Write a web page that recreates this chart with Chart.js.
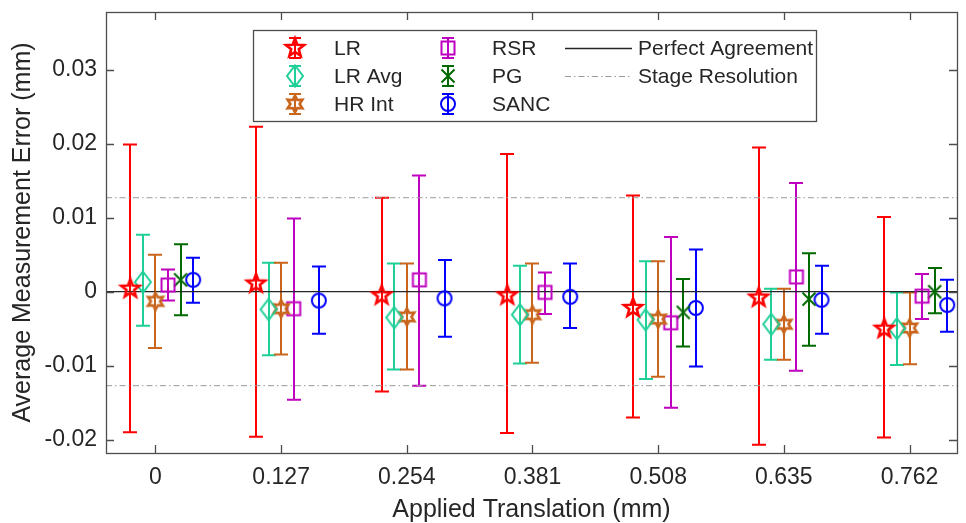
<!DOCTYPE html>
<html>
<head>
<meta charset="utf-8">
<title>Average Measurement Error</title>
<script src="https://cdn.jsdelivr.net/npm/chart.js@4.4.0/dist/chart.umd.min.js"></script>
<style>
html, body { margin: 0; padding: 0; background: #fff; }
#wrap { width: 966px; height: 523px; }
</style>
</head>
<body>
<div id="wrap"><canvas id="myChart" width="966" height="523"></canvas></div>
<script>
/* categories (applied translation, mm) */
var translations = [0, 0.127, 0.254, 0.381, 0.508, 0.635, 0.762];
var xTickLabels = ['0', '0.127', '0.254', '0.381', '0.508', '0.635', '0.762'];
var yTicks = [-0.02, -0.01, 0, 0.01, 0.02, 0.03];
var yTickLabels = ['-0.02', '-0.01', '0', '0.01', '0.02', '0.03'];
var stageResolution = 0.0127;

/* series values: mean, lower and upper end of the error bar */
var lr_mean = [0.0004, 0.0011, -0.0005, -0.0005, -0.0022, -0.0008, -0.0050];
var lr_lo   = [-0.0190, -0.0196, -0.0135, -0.0191, -0.0170, -0.0207, -0.0197];
var lr_hi   = [0.0199, 0.0223, 0.0127, 0.0186, 0.0130, 0.0195, 0.0101];

var lravg_mean = [0.0013, -0.0024, -0.0035, -0.0031, -0.0038, -0.0044, -0.0050];
var lravg_lo   = [-0.0046, -0.0086, -0.0105, -0.0097, -0.0118, -0.0092, -0.0099];
var lravg_hi   = [0.0077, 0.0039, 0.0038, 0.0035, 0.0041, 0.0004, -0.0001];

var hrint_mean = [-0.0013, -0.0023, -0.0034, -0.0031, -0.0037, -0.0044, -0.0049];
var hrint_lo   = [-0.0076, -0.0085, -0.0105, -0.0096, -0.0115, -0.0092, -0.0098];
var hrint_hi   = [0.0050, 0.0039, 0.0038, 0.0038, 0.0041, 0.0004, -0.0001];

var rsr_mean = [0.0009, -0.0023, 0.0016, -0.0001, -0.0042, 0.0020, -0.0006];
var rsr_lo   = [-0.0012, -0.0146, -0.0127, -0.0030, -0.0157, -0.0107, -0.0037];
var rsr_hi   = [0.0030, 0.0099, 0.0157, 0.0026, 0.0074, 0.0147, 0.0024];

var pg_mean = [0.0016, null, null, null, -0.0028, -0.0010, 0.0000];
var pg_lo   = [-0.0032, null, null, null, -0.0074, -0.0073, -0.0029];
var pg_hi   = [0.0064, null, null, null, 0.0017, 0.0052, 0.0032];

var sanc_mean = [0.0016, -0.0012, -0.0009, -0.0007, -0.0022, -0.0011, -0.0018];
var sanc_lo   = [-0.0015, -0.0057, -0.0061, -0.0049, -0.0101, -0.0057, -0.0054];
var sanc_hi   = [0.0046, 0.0034, 0.0043, 0.0038, 0.0057, 0.0035, 0.0016];

/* layout / style */
var xLimits = [-0.05, 0.81];
var yLimits = [-0.0218, 0.0378];
var seriesShift = 0.0127;      // horizontal spacing of the series inside a group
var axisColor = '#4d4d4d';
var textColor = '#262626';
var fontFamily = "'Liberation Sans', Arial, Helvetica, sans-serif";

Chart.defaults.font.family = fontFamily;
Chart.defaults.color = textColor;

/* star outline, alternating outer / inner radius */
function starPath(g, n, ro, ri) {
	for (var i = 0; i < n * 2; i++) {
		var r = (i % 2 == 0) ? ro : ri;
		var a = -Math.PI / 2 + i * Math.PI / n;
		if (i == 0) g.moveTo(r * Math.cos(a), r * Math.sin(a));
		else g.lineTo(r * Math.cos(a), r * Math.sin(a));
	}
	g.closePath();
}

function makeMarker(shape, color) {
	var c = document.createElement('canvas');
	c.width = 26;
	c.height = 26;
	var g = c.getContext('2d');
	g.strokeStyle = color;
	g.lineWidth = 2;
	g.translate(13, 13);
	g.beginPath();
	if (shape == 'pentagram') {
		g.lineWidth = 2.6;
		starPath(g, 5, 9.5, 4);
	} else if (shape == 'hexagram') {
		g.lineWidth = 2.6;
		starPath(g, 6, 8.5, 4.6);
	} else if (shape == 'diamond') {
		g.moveTo(0, -10.5);
		g.lineTo(8, 0);
		g.lineTo(0, 10.5);
		g.lineTo(-8, 0);
		g.closePath();
	} else if (shape == 'square') {
		g.rect(-6.5, -6.5, 13, 13);
	} else if (shape == 'x') {
		g.moveTo(-6.5, -6.5); g.lineTo(6.5, 6.5);
		g.moveTo(6.5, -6.5); g.lineTo(-6.5, 6.5);
	} else {
		g.arc(0, 0, 7, 0, Math.PI * 2);
	}
	g.stroke();
	return c;
}

var series = [
	{ label: 'LR',     mean: lr_mean,    lo: lr_lo,    hi: lr_hi,    color: '#ff0000', shape: 'pentagram' },
	{ label: 'LR Avg', mean: lravg_mean, lo: lravg_lo, hi: lravg_hi, color: '#1fcf98', shape: 'diamond' },
	{ label: 'HR Int', mean: hrint_mean, lo: hrint_lo, hi: hrint_hi, color: '#c9651c', shape: 'hexagram' },
	{ label: 'RSR',    mean: rsr_mean,   lo: rsr_lo,   hi: rsr_hi,   color: '#bf00bf', shape: 'square' },
	{ label: 'PG',     mean: pg_mean,    lo: pg_lo,    hi: pg_hi,    color: '#006a00', shape: 'x' },
	{ label: 'SANC',   mean: sanc_mean,  lo: sanc_lo,  hi: sanc_hi,  color: '#0000ff', shape: 'circle' }
];

var datasets = [];
series.forEach(function(s, idx) {
	var pts = [];
	for (var k = 0; k < translations.length; k++) {
		if (s.mean[k] === null) continue;
		pts.push({ x: translations[k] + (idx - 2) * seriesShift, y: s.mean[k], lo: s.lo[k], hi: s.hi[k] });
	}
	s.marker = makeMarker(s.shape, s.color);
	datasets.push({
		type: 'scatter',
		label: s.label,
		data: pts,
		pointStyle: s.marker,
		pointRadius: 8,
		errColor: s.color
	});
});

/* reference lines */
function hline(label, y, color, width, dash) {
	return {
		type: 'line',
		label: label,
		data: [{ x: xLimits[0], y: y }, { x: xLimits[1], y: y }],
		borderColor: color,
		borderWidth: width,
		borderDash: dash,
		pointRadius: 0,
		fill: false
	};
}
datasets.push(hline('Perfect Agreement', 0, '#262626', 1.3, []));
datasets.push(hline('Stage Resolution', stageResolution, '#9a9a9a', 1, [6, 3, 1.5, 3]));
datasets.push(hline('Stage Resolution', -stageResolution, '#9a9a9a', 1, [6, 3, 1.5, 3]));

var capHalf = 7;

var errorBars = {
	id: 'errorBars',
	beforeDatasetsDraw: function(chart) {
		var ctx = chart.ctx;
		var xs = chart.scales.x, ys = chart.scales.y;
		chart.data.datasets.forEach(function(ds) {
			if (!ds.errColor) return;
			ctx.save();
			ctx.strokeStyle = ds.errColor;
			ctx.lineWidth = 2;
			ds.data.forEach(function(p) {
				var px = Math.round(xs.getPixelForValue(p.x));
				var top = ys.getPixelForValue(p.hi);
				var bot = ys.getPixelForValue(p.lo);
				ctx.beginPath();
				ctx.moveTo(px, top); ctx.lineTo(px, bot);
				ctx.moveTo(px - capHalf, top); ctx.lineTo(px + capHalf, top);
				ctx.moveTo(px - capHalf, bot); ctx.lineTo(px + capHalf, bot);
				ctx.stroke();
			});
			ctx.restore();
		});
	}
};

/* box round the axes with inward ticks on all four sides */
var axesBox = {
	id: 'axesBox',
	afterDatasetsDraw: function(chart) {
		var ctx = chart.ctx, a = chart.chartArea;
		var xs = chart.scales.x, ys = chart.scales.y;
		var tl = 8;
		ctx.save();
		ctx.strokeStyle = axisColor;
		ctx.lineWidth = 1.3;
		ctx.beginPath();
		xs.ticks.forEach(function(t) {
			var px = Math.round(xs.getPixelForValue(t.value)) + 0.5;
			ctx.moveTo(px, a.bottom); ctx.lineTo(px, a.bottom - tl);
			ctx.moveTo(px, a.top); ctx.lineTo(px, a.top + tl);
		});
		ys.ticks.forEach(function(t) {
			var py = Math.round(ys.getPixelForValue(t.value)) + 0.5;
			ctx.moveTo(a.left, py); ctx.lineTo(a.left + tl, py);
			ctx.moveTo(a.right, py); ctx.lineTo(a.right - tl, py);
		});
		ctx.stroke();
		ctx.strokeRect(Math.round(a.left) + 0.5, Math.round(a.top) + 0.5,
			Math.round(a.right - a.left), Math.round(a.bottom - a.top));
		ctx.restore();
	}
};

/* legend box in the upper part of the axes, three columns */
var boxLegend = {
	id: 'boxLegend',
	afterDraw: function(chart) {
		var ctx = chart.ctx, a = chart.chartArea;
		var bx = a.left + 147, by = a.top + 18, bw = 563, bh = 91;
		var rowH = 28, row0 = by + 18;
		ctx.save();
		ctx.fillStyle = '#ffffff';
		ctx.fillRect(bx, by, bw, bh);
		ctx.strokeStyle = axisColor;
		ctx.lineWidth = 1.3;
		ctx.strokeRect(Math.round(bx) + 0.5, Math.round(by) + 0.5, bw, bh);
		ctx.font = '21px ' + fontFamily;
		ctx.textBaseline = 'middle';
		ctx.textAlign = 'left';
		series.forEach(function(s, i) {
			var col = Math.floor(i / 3), row = i % 3;
			var mx = bx + (col == 0 ? 42 : 195);
			var tx = bx + (col == 0 ? 81 : 239);
			var my = row0 + row * rowH;
			ctx.strokeStyle = s.color;
			ctx.lineWidth = 2;
			ctx.beginPath();
			ctx.moveTo(mx, my - 10); ctx.lineTo(mx, my + 10);
			ctx.moveTo(mx - 6, my - 10); ctx.lineTo(mx + 6, my - 10);
			ctx.moveTo(mx - 6, my + 10); ctx.lineTo(mx + 6, my + 10);
			ctx.stroke();
			ctx.drawImage(s.marker, mx - 13, my - 13);
			ctx.fillStyle = textColor;
			ctx.fillText(s.label, tx, my + 1);
		});
		var lx0 = bx + 312, lx1 = bx + 379, ltx = bx + 385;
		ctx.strokeStyle = '#262626';
		ctx.lineWidth = 1.3;
		ctx.beginPath();
		ctx.moveTo(lx0, row0 + 0.5); ctx.lineTo(lx1, row0 + 0.5);
		ctx.stroke();
		ctx.strokeStyle = '#9a9a9a';
		ctx.lineWidth = 1;
		ctx.setLineDash([6, 3, 1.5, 3]);
		ctx.beginPath();
		ctx.moveTo(lx0, row0 + rowH + 0.5); ctx.lineTo(lx1, row0 + rowH + 0.5);
		ctx.stroke();
		ctx.setLineDash([]);
		ctx.fillStyle = textColor;
		ctx.fillText('Perfect Agreement', ltx, row0 + 1);
		ctx.fillText('Stage Resolution', ltx, row0 + rowH + 1);
		ctx.restore();
	}
};

var ctx = document.getElementById('myChart').getContext('2d');
var graph = new Chart(ctx, {
	data: { datasets: datasets },
	options: {
		responsive: false,
		animation: false,
		layout: { padding: { top: 12, right: 2, left: 0, bottom: 0 } },
		plugins: {
			legend: { display: false },
			tooltip: { enabled: false }
		},
		scales: {
			x: {
				type: 'linear',
				min: xLimits[0],
				max: xLimits[1],
				grid: { display: false, drawTicks: false },
				border: { display: false },
				afterBuildTicks: function(axis) {
					axis.ticks = translations.map(function(v) { return { value: v }; });
				},
				afterFit: function(axis) {
					axis.height = 70;
					axis.paddingLeft = 0;
					axis.paddingRight = 0;
				},
				ticks: {
					autoSkip: false,
					maxRotation: 0,
					padding: 11,
					color: textColor,
					font: { size: 23 },
					callback: function(v, i) { return xTickLabels[i]; }
				},
				title: {
					display: true,
					text: 'Applied Translation (mm)',
					color: textColor,
					font: { size: 25, lineHeight: 1 },
					padding: { top: 0, bottom: 0 }
				}
			},
			y: {
				type: 'linear',
				min: yLimits[0],
				max: yLimits[1],
				grid: { display: false, drawTicks: false },
				border: { display: false },
				afterBuildTicks: function(axis) {
					axis.ticks = yTicks.map(function(v) { return { value: v }; });
				},
				afterFit: function(axis) {
					axis.width = 106;
					axis.paddingTop = 0;
					axis.paddingBottom = 0;
				},
				ticks: {
					padding: 9,
					color: textColor,
					font: { size: 23 },
					callback: function(v, i) { return yTickLabels[i]; }
				},
				title: {
					display: true,
					text: 'Average Measurement Error (mm)',
					color: textColor,
					font: { size: 25, lineHeight: 1.2 },
					padding: { top: 8, bottom: 0 }
				}
			}
		}
	},
	plugins: [errorBars, axesBox, boxLegend]
});
</script>
</body>
</html>
